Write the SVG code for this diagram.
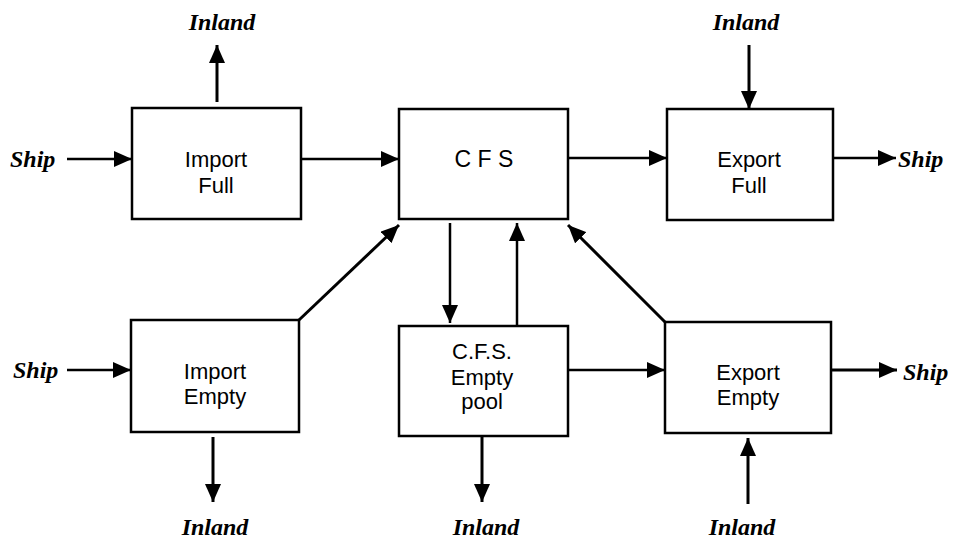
<svg xmlns="http://www.w3.org/2000/svg" width="955" height="539" viewBox="0 0 955 539">
<defs>
<style>
.box{fill:#fff;stroke:#000;stroke-width:2.5}
.lbl{font-family:"Liberation Sans",Arial,sans-serif;font-size:22px;fill:#000;text-anchor:middle}
.ext{font-family:"Liberation Serif","Times New Roman",serif;font-size:24px;font-weight:bold;font-style:italic;fill:#000}
.c{text-anchor:middle}
.ln{stroke:#000;stroke-width:2.5;fill:none;marker-end:url(#ah)}
.tk{stroke-width:3}
</style>
<marker id="ah" viewBox="0 0 18 16" refX="18" refY="8" markerWidth="18" markerHeight="16" markerUnits="userSpaceOnUse" orient="auto">
<path d="M0,0 L18,8 L0,16 z" fill="#000"/>
</marker>
</defs>
<rect width="955" height="539" fill="#fff"/>

<g id="connectors">
<line class="ln" x1="67" y1="159" x2="132" y2="159"/>
<line class="ln tk" x1="217" y1="102" x2="217" y2="45"/>
<line class="ln" x1="301" y1="159" x2="399" y2="159"/>
<line class="ln" x1="568" y1="158" x2="667" y2="158"/>
<line class="ln tk" x1="749" y1="45" x2="749" y2="109"/>
<line class="ln" x1="833" y1="158" x2="896" y2="158"/>
<line class="ln" x1="450" y1="223" x2="450" y2="323"/>
<line class="ln" x1="517" y1="326" x2="517" y2="223"/>
<line class="ln tk" x1="299" y1="320" x2="399" y2="225"/>
<line class="ln tk" x1="665" y1="322" x2="568" y2="225"/>
<line class="ln" x1="67" y1="370" x2="131" y2="370"/>
<line class="ln tk" x1="213" y1="437" x2="213" y2="502"/>
<line class="ln tk" x1="482" y1="437" x2="482" y2="502"/>
<line class="ln" x1="568" y1="370" x2="665" y2="370"/>
<line class="ln tk" x1="831" y1="370" x2="897" y2="370"/>
<line class="ln tk" x1="748" y1="504" x2="748" y2="438"/>
</g>

<g id="import-full">
<rect class="box" x="132" y="108" width="169" height="111"/>
<text class="lbl" x="216" y="167">Import</text>
<text class="lbl" x="216" y="193">Full</text>
</g>
<g id="cfs">
<rect class="box" x="399" y="109" width="169" height="110"/>
<text class="lbl" x="484" y="167" style="font-size:23px">C F S</text>
</g>
<g id="export-full">
<rect class="box" x="667" y="109" width="166" height="111"/>
<text class="lbl" x="749" y="167">Export</text>
<text class="lbl" x="749" y="193">Full</text>
</g>
<g id="import-empty">
<rect class="box" x="131" y="320" width="168" height="112"/>
<text class="lbl" x="215" y="379">Import</text>
<text class="lbl" x="215" y="404">Empty</text>
</g>
<g id="cfs-empty-pool">
<rect class="box" x="399" y="326" width="169" height="110"/>
<text class="lbl" x="482" y="359">C.F.S.</text>
<text class="lbl" x="482" y="385">Empty</text>
<text class="lbl" x="482" y="409">pool</text>
</g>
<g id="export-empty">
<rect class="box" x="665" y="322" width="166" height="111"/>
<text class="lbl" x="748" y="380">Export</text>
<text class="lbl" x="748" y="405">Empty</text>
</g>

<g id="ship-in-1"><text class="ext" x="10" y="167">Ship</text></g>
<g id="ship-in-2"><text class="ext" x="13" y="378">Ship</text></g>
<g id="ship-out-1"><text class="ext" x="898" y="167">Ship</text></g>
<g id="ship-out-2"><text class="ext" x="903" y="380">Ship</text></g>
<g id="inland-1"><text class="ext c" x="222" y="30">Inland</text></g>
<g id="inland-2"><text class="ext c" x="746" y="30">Inland</text></g>
<g id="inland-3"><text class="ext c" x="215" y="535">Inland</text></g>
<g id="inland-4"><text class="ext c" x="486" y="535">Inland</text></g>
<g id="inland-5"><text class="ext c" x="742" y="535">Inland</text></g>
</svg>
